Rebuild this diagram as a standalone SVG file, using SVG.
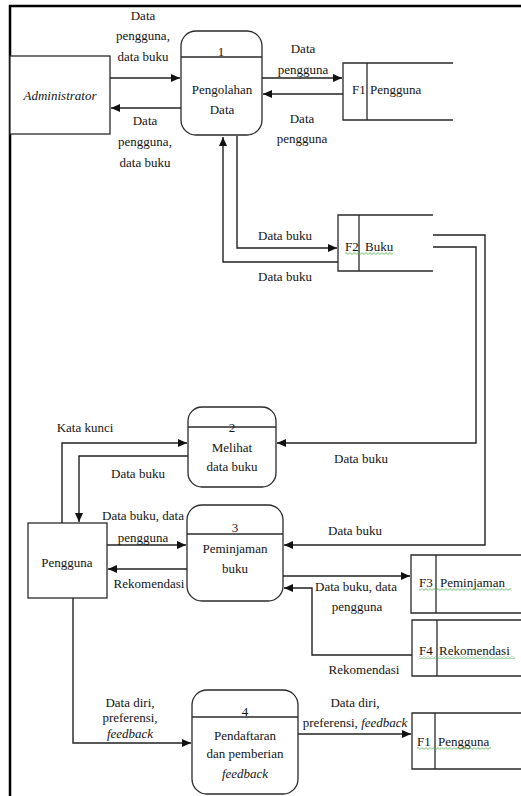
<svg xmlns="http://www.w3.org/2000/svg" width="521" height="796" viewBox="0 0 521 796" font-family="'Liberation Serif', 'DejaVu Serif', serif">
  <style>
    text { font-family: 'Liberation Serif', 'DejaVu Serif', serif; font-size: 13px; fill: #141414; }
    .c { text-anchor: middle; }
    .it { font-style: italic; }
    .box { fill: #fff; stroke: #2a2a2a; stroke-width: 1.3; }
    .ln { fill: none; stroke: #2a2a2a; stroke-width: 1.3; }
    .flow { fill: none; stroke: #222; stroke-width: 1.4; marker-end: url(#arrow); }
    .frame { fill: none; stroke: #000; stroke-width: 2.5; }
    .sq { fill: url(#squiggle); }
  </style>
  <defs>
    <marker id="arrow" markerUnits="userSpaceOnUse" markerWidth="10" markerHeight="9" refX="9" refY="4" orient="auto">
      <path d="M0,0 L9,4 L0,8 z" fill="#111"/>
    </marker>
    <pattern id="squiggle" width="4" height="3" patternUnits="userSpaceOnUse">
      <path d="M0,2.4 L2,0.6 L4,2.4" fill="none" stroke="#4caf50" stroke-width="0.8"/>
    </pattern>
  </defs>

  <!-- page frame -->
  <path class="frame" d="M10,796 V6 H521"/>

  <!-- external entities -->
  <g id="administrator">
    <rect class="box" x="10" y="56" width="100" height="78"/>
    <text class="c it" x="60" y="100" font-size="14">Administrator</text>
  </g>
  <g id="pengguna">
    <rect class="box" x="28" y="523" width="79" height="75"/>
    <text class="c" x="67" y="567">Pengguna</text>
  </g>

  <!-- processes -->
  <g id="p1">
    <rect class="box" x="181" y="31" width="81" height="104" rx="15"/>
    <line class="ln" x1="181" y1="57" x2="262" y2="57"/>
    <text class="c" x="221" y="56">1</text>
    <text class="c" x="222" y="94" font-size="12">Pengolahan</text>
    <text class="c" x="222" y="114" font-size="12">Data</text>
  </g>
  <g id="p2">
    <rect class="box" x="188" y="407" width="88" height="80" rx="14"/>
    <line class="ln" x1="188" y1="427" x2="276" y2="427"/>
    <text class="c" x="232" y="432">2</text>
    <text class="c" x="232" y="452">Melihat</text>
    <text class="c" x="232" y="471">data buku</text>
  </g>
  <g id="p3">
    <rect class="box" x="187" y="505" width="96" height="96" rx="15"/>
    <line class="ln" x1="187" y1="534" x2="283" y2="534"/>
    <text class="c" x="235" y="532">3</text>
    <text class="c" x="235" y="553">Peminjaman</text>
    <text class="c" x="235" y="573">buku</text>
  </g>
  <g id="p4">
    <rect class="box" x="192" y="690" width="106" height="104" rx="15"/>
    <line class="ln" x1="192" y1="717" x2="298" y2="717"/>
    <text class="c" x="245" y="716">4</text>
    <text class="c" x="245" y="740">Pendaftaran</text>
    <text class="c" x="245" y="758">dan pemberian</text>
    <text class="c it" x="245" y="778">feedback</text>
  </g>

  <!-- data stores -->
  <g id="f1-top">
    <path class="ln" d="M453,63 H343 V120 H453 M367,63 V120"/>
    <text x="352" y="94">F1</text>
    <text x="370" y="94">Pengguna</text>
  </g>
  <g id="f2">
    <path class="ln" d="M433,215 H338 V271 H433 M359,215 V271"/>
    <text x="345" y="251">F2</text>
    <text x="365" y="251">Buku</text>
    <rect class="sq" x="345" y="252" width="48" height="3"/>
  </g>
  <g id="f3">
    <path class="ln" d="M521,555 H411 V613 H521 M436,555 V613"/>
    <text x="419" y="587">F3</text>
    <text x="440" y="587">Peminjaman</text>
    <rect class="sq" x="419" y="588" width="92" height="3"/>
  </g>
  <g id="f4">
    <path class="ln" d="M521,620 H412 V676 H521 M437,620 V676"/>
    <text x="419" y="655">F4</text>
    <text x="439" y="655">Rekomendasi</text>
    <rect class="sq" x="419" y="656" width="96" height="3"/>
  </g>
  <g id="f1-bottom">
    <path class="ln" d="M521,713 H412 V769 H521 M435,713 V769"/>
    <text x="417" y="746">F1</text>
    <text x="438" y="746">Pengguna</text>
    <rect class="sq" x="417" y="747" width="74" height="3"/>
  </g>

  <!-- data flows -->
  <g id="connectors">
    <path class="flow" d="M110,78 H180"/>
    <path class="flow" d="M181,108 H111"/>
    <path class="flow" d="M262,78 H342"/>
    <path class="flow" d="M343,94 H263"/>
    <path class="flow" d="M237,136 V248 H337"/>
    <path class="flow" d="M338,262 H223 V137"/>
    <path class="flow" d="M433,247 H476 V443 H277"/>
    <path class="flow" d="M433,235 H485 V545 H284"/>
    <path class="flow" d="M62,523 V443 H187"/>
    <path class="flow" d="M188,456 H79 V522"/>
    <path class="flow" d="M107,545 H186"/>
    <path class="flow" d="M187,569 H108"/>
    <path class="flow" d="M283,576 H410"/>
    <path class="flow" d="M412,655 H312 V588 H284"/>
    <path class="flow" d="M73,598 V743 H191"/>
    <path class="flow" d="M298,734 H411"/>
  </g>

  <!-- flow labels -->
  <g id="labels">
    <text class="c" x="143" y="20">Data</text>
    <text class="c" x="143" y="40">pengguna,</text>
    <text class="c" x="143" y="61">data buku</text>
    <text class="c" x="145" y="125">Data</text>
    <text class="c" x="145" y="146">pengguna,</text>
    <text class="c" x="145" y="167">data buku</text>

    <text class="c" x="303" y="53">Data</text>
    <text class="c" x="303" y="74">pengguna</text>
    <text class="c" x="302" y="123">Data</text>
    <text class="c" x="302" y="143">pengguna</text>

    <text class="c" x="285" y="240">Data buku</text>
    <text class="c" x="285" y="281">Data buku</text>

    <text class="c" x="361" y="463">Data buku</text>
    <text class="c" x="355" y="535">Data buku</text>

    <text class="c" x="85" y="432">Kata kunci</text>
    <text class="c" x="138" y="478">Data buku</text>
    <text class="c" x="143" y="520">Data buku, data</text>
    <text class="c" x="143" y="542">pengguna</text>
    <text class="c" x="149" y="588">Rekomendasi</text>

    <text class="c" x="356" y="591">Data buku, data</text>
    <text class="c" x="357" y="611">pengguna</text>
    <text class="c" x="364" y="674">Rekomendasi</text>

    <text class="c" x="130" y="707">Data diri,</text>
    <text class="c" x="130" y="722">preferensi,</text>
    <text class="c it" x="130" y="738">feedback</text>

    <text class="c" x="355" y="707">Data diri,</text>
    <text class="c" x="355" y="727">preferensi, <tspan class="it">feedback</tspan></text>
  </g>
</svg>
